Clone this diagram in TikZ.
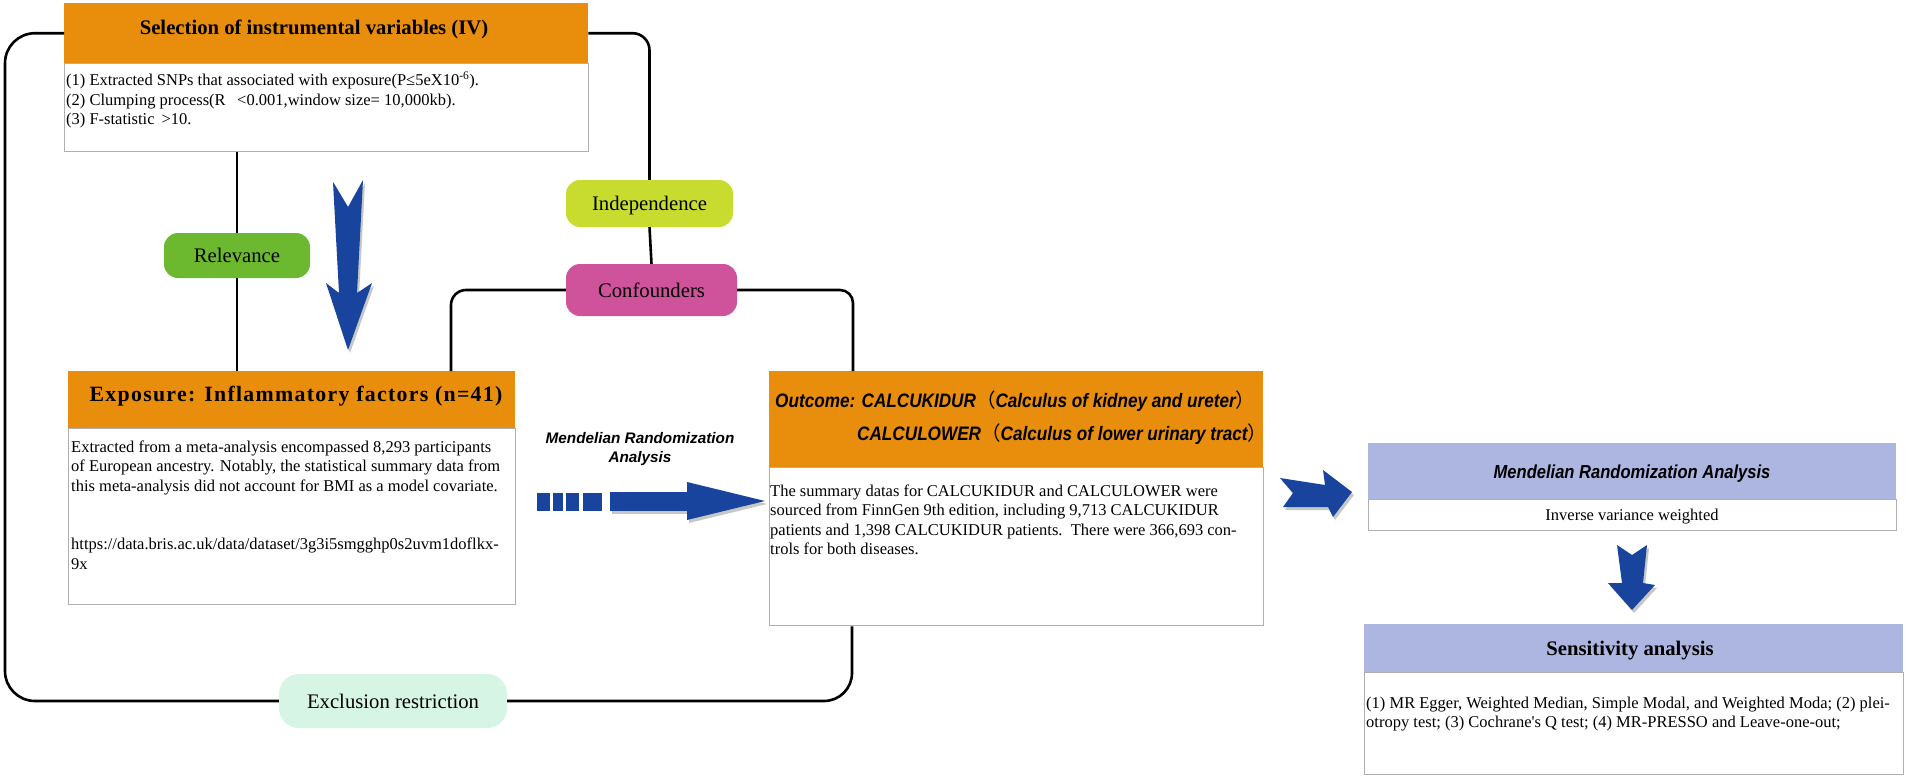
\documentclass[tikz,border=0pt]{standalone}
\usepackage{fontspec}
\setmainfont{Liberation Serif}
\newfontfamily\sansf{Liberation Sans}
\newfontfamily\narrowf[FakeStretch=0.88]{Liberation Sans}
\newfontfamily\spacedf[LetterSpace=6]{Liberation Serif}
\newfontfamily\cjkf{Noto Sans CJK SC}
\usetikzlibrary{calc}
\definecolor{hdrorange}{RGB}{233,141,13}
\definecolor{hdrlav}{RGB}{173,181,225}
\definecolor{arrowblue}{RGB}{25,68,158}
\definecolor{relgreen}{RGB}{108,184,46}
\definecolor{indyellow}{RGB}{200,220,48}
\definecolor{confpink}{RGB}{206,83,155}
\definecolor{exclmint}{RGB}{214,245,228}
\definecolor{boxgray}{RGB}{175,175,175}
\tikzset{
  hdrbox/.style={rectangle, inner sep=0pt, draw=none, anchor=north west},
  bodybox/.style={rectangle, inner sep=0pt, fill=white, draw=boxgray, line width=1.4pt, anchor=north west},
  bodytxt/.style={inner sep=0pt, align=left, font=\fontsize{16.5}{19.5}\selectfont},
  titletxt/.style={inner sep=0pt, font=\bfseries\fontsize{20.7}{24}\selectfont},
  labelbox/.style={rectangle, rounded corners=14pt, inner sep=0pt, text height=17pt, text depth=3pt, font=\fontsize{20.7}{24}\selectfont},
  conn/.style={draw=black, line width=2.6pt, rounded corners=15pt},
  thinconn/.style={draw=black, line width=1.9pt},
  bluearrow/.style={fill=arrowblue},
  arrowshadow/.style={fill=black, opacity=0.22},
  outtitle/.style={inner sep=0pt, anchor=base west, font=\narrowf\bfseries\itshape\fontsize{19.5}{23}\selectfont}
}
\begin{document}
\begin{tikzpicture}[x=1pt,y=-1pt]
\useasboundingbox[fill=white] (0,0) rectangle (1908,779);

% ---------- boxes ----------
\node[bodybox, minimum width=524pt, minimum height=88pt] (ivb) at (64,63) {};
\node[hdrbox, fill=hdrorange, minimum width=524pt, minimum height=60pt] (ivh) at (64,3) {};
\node[bodybox, minimum width=447pt, minimum height=176pt] (expob) at (68,428) {};
\node[hdrbox, fill=hdrorange, minimum width=447pt, minimum height=57pt] (expoh) at (68,371) {};
\node[bodybox, minimum width=494pt, minimum height=158pt] (outb) at (769,467) {};
\node[hdrbox, fill=hdrorange, minimum width=494pt, minimum height=96pt] (outh) at (769,371) {};
\node[bodybox, minimum width=528pt, minimum height=31pt] (mrb) at (1368,499) {};
\node[hdrbox, fill=hdrlav, minimum width=528pt, minimum height=56pt] (mrh) at (1368,443) {};
\node[bodybox, minimum width=539pt, minimum height=102pt] (senb) at (1364,672) {};
\node[hdrbox, fill=hdrlav, minimum width=539pt, minimum height=48pt] (senh) at (1364,624) {};

% ---------- labels ----------
\node[labelbox, fill=relgreen, minimum width=146pt, minimum height=45pt] (relev) at (237,255.5) {Relevance};
\node[labelbox, fill=indyellow, minimum width=167pt, minimum height=47pt] (indep) at (649.5,203.5) {Independence};
\node[labelbox, fill=confpink, minimum width=171pt, minimum height=52pt] (conf) at (651.5,290) {Confounders};
\node[labelbox, fill=exclmint, rounded corners=20pt, minimum width=228pt, minimum height=54pt] (excl) at (393,701) {Exclusion restriction};

% ---------- connectors ----------
\coordinate (lmid) at (5,360);
\draw[conn, rounded corners=30pt] (ivh.west) -| (lmid) |- (excl.west);
\draw[conn, rounded corners=28pt] (excl.east) -| ($(outb.south west)+(83,0)$);
\draw[conn, rounded corners=17pt] (ivh.east) -| (indep.north);
\draw[conn] (indep.south) -- (conf.north);
\draw[conn] (conf.west) -| ($(expoh.north west)+(383,0)$);
\draw[conn, rounded corners=13pt] (conf.east) -| ($(outh.north west)+(84,0)$);
\draw[thinconn] (relev.north) -- (relev.north |- ivb.south);
\draw[thinconn] (relev.south) -- (relev.south |- expoh.north);

% ---------- texts ----------
\node[titletxt, anchor=base] (ivt) at (314,34) {Selection of instrumental variables (IV)};
\node[bodytxt, anchor=north west] (ivx) at (66,71.4) {\strut(1) Extracted SNPs that associated with exposure(P≤5eX10\textsuperscript{-6}).\\(2) Clumping process(R\hspace{0.7em}<0.001,window size= 10,000kb).\\(3) F-statistic \,>10.};

\node[inner sep=0pt, anchor=base, font=\spacedf\bfseries\fontsize{21.8}{26}\selectfont] (expt) at (296,401) {Exposure: Inflammatory factors (n=41)};
\node[bodytxt, anchor=north west] (expx) at (71,438.4) {\strut Extracted from a meta-analysis encompassed 8,293 participants\\of European ancestry. Notably, the statistical summary data from\\this meta-analysis did not account for BMI as a model covariate.\\[39pt]https://data.bris.ac.uk/data/dataset/3g3i5smgghp0s2uvm1doflkx-\\9x};

\node[outtitle] (outt1) at (775,407) {Outcome: CALCUKIDUR{\cjkf\mdseries\upshape （}Calculus of kidney and ureter{\cjkf\mdseries\upshape ）}};
\node[outtitle] (outt2) at (857,440) {CALCULOWER{\cjkf\mdseries\upshape （}Calculus of lower urinary tract{\cjkf\mdseries\upshape ）}};
\node[bodytxt, anchor=north west] (outx) at (770,482.4) {\strut The summary datas for CALCUKIDUR and CALCULOWER were\\sourced from FinnGen 9th edition, including 9,713 CALCUKIDUR\\patients and 1,398 CALCUKIDUR patients.\ \ There were 366,693 con-\\trols for both diseases.};

\node[inner sep=0pt, anchor=north, align=center, font=\sansf\bfseries\itshape\fontsize{15.3}{19}\selectfont] (mrl) at (640,429.7) {\strut Mendelian Randomization\\Analysis};

\node[inner sep=0pt, anchor=base, font=\narrowf\bfseries\itshape\fontsize{18.8}{22}\selectfont] (mrt) at (1632,478) {Mendelian Randomization Analysis};
\node[bodytxt, anchor=base] (mrx) at (1632,520) {Inverse variance weighted};
\node[titletxt, anchor=base] (sent) at (1630,655) {Sensitivity analysis};
\node[bodytxt, anchor=north west] (senx) at (1366,694.4) {\strut(1) MR Egger, Weighted Median, Simple Modal, and Weighted Moda; (2) plei-\\otropy test; (3) Cochrane\textquotesingle s Q test; (4) MR-PRESSO and Leave-one-out;};

% ---------- blue arrows ----------
\begin{scope}[shift={(2,3)}]
\fill[arrowshadow] (333,182) -- (348,207) -- (363,180) -- (357,293) -- (372,283) -- (348,350) -- (326,283) -- (339,293) -- cycle;
\fill[arrowshadow] (1280,478) -- (1325,485) -- (1323,470) -- (1352,492) -- (1333,517) -- (1328,507) -- (1283,507) -- (1293,493) -- cycle;
\fill[arrowshadow] (1617,545) -- (1632,555) -- (1647,545) -- (1643,583) -- (1655,585) -- (1632,610) -- (1608,583) -- (1622,583) -- cycle;
\fill[arrowshadow] (610,492) rectangle (687,511);
\fill[arrowshadow] (687,482) -- (765,501) -- (687,520) -- cycle;
\end{scope}
\fill[bluearrow] (333,182) -- (348,207) -- (363,180) -- (357,293) -- (372,283) -- (348,350) -- (326,283) -- (339,293) -- cycle;
\fill[bluearrow] (1280,478) -- (1325,485) -- (1323,470) -- (1352,492) -- (1333,517) -- (1328,507) -- (1283,507) -- (1293,493) -- cycle;
\fill[bluearrow] (1617,545) -- (1632,555) -- (1647,545) -- (1643,583) -- (1655,585) -- (1632,610) -- (1608,583) -- (1622,583) -- cycle;
% dashed MR arrow
\fill[bluearrow] (537,493) rectangle (550,511);
\fill[bluearrow] (553,493) rectangle (563,511);
\fill[bluearrow] (566,493) rectangle (579,511);
\fill[bluearrow] (583,493) rectangle (602,511);
\fill[bluearrow] (610,492) rectangle (687,511);
\fill[bluearrow] (687,482) -- (765,501) -- (687,520) -- cycle;
\end{tikzpicture}
\end{document}
